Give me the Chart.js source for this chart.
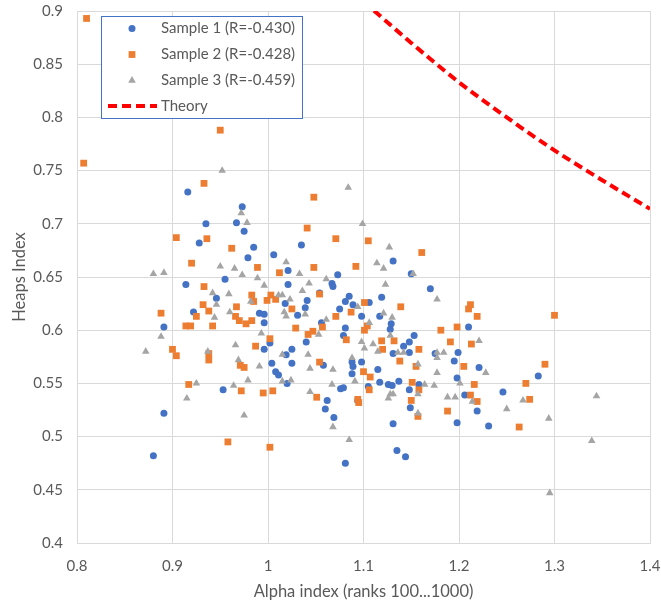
<!DOCTYPE html>
<html>
<head>
<meta charset="utf-8">
<script src="https://cdn.jsdelivr.net/npm/chart.js@4.4.0/dist/chart.umd.min.js"></script>
<style>
  html, body { margin: 0; padding: 0; background: #ffffff; }
  #c { display: block; }
</style>
</head>
<body>
<canvas id="c" width="661" height="608"></canvas>
<script>
// Sample 1 (blue circles)
const s1x = [0.916,0.973,0.967,0.935,0.975,0.928,0.985,0.979,1.006,1.035,
  1.021,1.021,0.955,0.914,0.946,1.041,1.018,1.039,0.922,0.991,
  0.996,1.031,1.054,1.131,1.073,1.150,1.067,1.068,1.170,1.085,
  1.081,1.089,1.119,1.106,1.075,1.098,1.117,0.891,0.996,1.002,
  0.996,1.004,1.025,1.019,1.025,1.008,1.011,1.020,1.040,0.953,
  1.056,1.081,1.079,1.128,1.129,1.153,1.148,1.142,1.148,1.131,
  1.175,1.199,1.195,1.210,1.088,1.089,1.098,1.088,1.058,1.115,
  1.117,1.126,1.130,1.137,1.158,1.198,1.148,1.076,1.079,1.062,
  1.094,1.206,1.246,1.283,1.231,1.219,1.198,1.131,1.135,1.144,
  1.081,1.221,1.060,1.069,1.149,0.891,0.880,1.105];
const s1y = [0.730,0.716,0.701,0.700,0.693,0.682,0.678,0.668,0.671,0.680,
  0.656,0.643,0.648,0.643,0.630,0.628,0.625,0.621,0.617,0.616,
  0.615,0.614,0.635,0.665,0.652,0.653,0.644,0.641,0.639,0.632,
  0.627,0.624,0.631,0.626,0.620,0.613,0.613,0.603,0.607,0.588,
  0.582,0.569,0.582,0.577,0.569,0.561,0.558,0.550,0.589,0.544,
  0.607,0.602,0.595,0.601,0.606,0.595,0.589,0.585,0.579,0.578,
  0.578,0.579,0.571,0.603,0.570,0.566,0.570,0.559,0.567,0.563,
  0.551,0.549,0.548,0.552,0.549,0.555,0.544,0.545,0.546,0.534,
  0.534,0.539,0.542,0.557,0.510,0.524,0.513,0.512,0.487,0.481,
  0.475,0.565,0.526,0.518,0.527,0.522,0.482,0.547];

// Sample 2 (orange squares)
const s2x = [0.810,0.807,0.950,0.933,1.048,1.041,0.904,0.936,0.962,0.920,
  0.989,1.012,1.048,0.933,0.983,0.985,0.999,1.003,1.008,0.967,
  0.932,0.938,1.025,0.888,0.925,0.966,0.970,0.977,0.983,1.071,
  1.105,1.161,1.092,1.054,1.101,1.139,1.087,1.071,1.212,1.210,
  1.219,0.914,0.919,0.942,1.002,0.987,1.029,1.042,1.047,0.900,
  0.904,0.938,0.938,0.971,0.975,0.917,0.972,0.995,1.005,1.051,
  1.057,1.101,1.104,1.082,1.119,1.120,1.132,1.158,1.138,1.155,
  1.100,1.107,1.181,1.198,1.191,1.213,1.205,1.151,1.158,1.106,
  1.150,1.094,1.095,1.216,1.212,1.219,1.054,1.188,1.157,1.263,
  1.270,1.274,1.290,1.300,0.958,1.002];
const s2y = [0.893,0.757,0.788,0.738,0.725,0.696,0.687,0.686,0.677,0.663,
  0.659,0.654,0.659,0.641,0.633,0.627,0.628,0.633,0.629,0.622,
  0.624,0.618,0.620,0.616,0.613,0.613,0.609,0.606,0.609,0.686,
  0.684,0.673,0.660,0.634,0.626,0.622,0.617,0.613,0.624,0.620,
  0.613,0.604,0.604,0.604,0.592,0.585,0.602,0.596,0.599,0.582,
  0.576,0.578,0.572,0.567,0.565,0.549,0.543,0.541,0.543,0.537,
  0.603,0.600,0.604,0.591,0.590,0.582,0.590,0.582,0.571,0.566,
  0.561,0.556,0.600,0.603,0.589,0.587,0.566,0.551,0.544,0.544,
  0.534,0.535,0.532,0.549,0.539,0.533,0.570,0.524,0.519,0.509,
  0.550,0.535,0.568,0.614,0.495,0.490];

// Sample 3 (grey triangles)
const s3x = [0.952,0.972,0.978,1.084,1.099,0.880,0.891,0.950,0.965,0.973,
  0.989,0.996,1.019,1.033,1.043,1.036,0.942,0.959,0.946,0.982,
  1.011,1.015,1.023,1.017,1.019,0.960,0.944,1.039,1.127,1.114,
  1.121,1.152,1.061,1.123,1.177,1.094,1.121,1.130,1.061,0.888,
  0.872,0.966,0.937,0.969,0.991,0.993,1.015,1.042,1.044,0.979,
  0.925,0.964,1.015,1.024,0.915,1.044,1.106,1.128,1.098,1.110,
  1.115,1.136,1.142,1.177,1.184,1.177,1.221,1.088,1.157,1.068,
  1.177,1.228,1.067,1.091,1.164,1.174,1.201,1.128,1.131,1.157,
  1.188,1.196,1.126,1.250,1.267,1.294,1.344,1.339,1.295,1.085,
  1.214,1.157,1.068,0.975,1.053,1.101];
const s3y = [0.750,0.710,0.701,0.734,0.700,0.653,0.654,0.660,0.658,0.652,
  0.649,0.642,0.664,0.653,0.644,0.637,0.635,0.634,0.624,0.627,
  0.633,0.633,0.629,0.617,0.613,0.617,0.612,0.615,0.678,0.663,
  0.658,0.653,0.648,0.643,0.629,0.622,0.616,0.612,0.610,0.594,
  0.580,0.586,0.580,0.572,0.566,0.597,0.577,0.577,0.564,0.553,
  0.550,0.548,0.552,0.553,0.536,0.542,0.607,0.595,0.589,0.587,
  0.580,0.579,0.579,0.579,0.579,0.574,0.590,0.574,0.568,0.563,
  0.560,0.560,0.549,0.552,0.549,0.548,0.550,0.540,0.540,0.540,
  0.537,0.537,0.536,0.526,0.534,0.517,0.538,0.496,0.447,0.497,
  0.533,0.522,0.509,0.520,0.596,0.583];

// Theory curve
const thX = [1.10, 1.15, 1.20, 1.25, 1.30, 1.35, 1.40];
const thY = [0.909, 0.870, 0.833, 0.800, 0.769, 0.741, 0.714];

const seriesLabels = ['Sample 1 (R=-0.430)', 'Sample 2 (R=-0.428)', 'Sample 3 (R=-0.459)', 'Theory'];
const xTicks = [0.8, 0.9, 1.0, 1.1, 1.2, 1.3, 1.4];
const yTicks = [0.4, 0.45, 0.5, 0.55, 0.6, 0.65, 0.7, 0.75, 0.8, 0.85, 0.9];

const zip = (xs, ys) => xs.map((x, i) => ({ x: x, y: ys[i] }));

const FONT = 'Lato, "Liberation Sans", sans-serif';
const TEXT = '#595959';
const GRID = '#d9d9d9';

// Framed legend drawn inside the plot area, top-left
const boxLegend = {
  id: 'boxLegend',
  afterDraw(chart) {
    const ctx = chart.ctx;
    const a = chart.chartArea;
    const x0 = a.left + 24, y0 = a.top + 5, w = 201, h = 102;
    ctx.save();
    ctx.fillStyle = '#ffffff';
    ctx.fillRect(x0, y0, w, h);
    ctx.strokeStyle = '#4472c4';
    ctx.lineWidth = 1;
    ctx.strokeRect(x0 + 0.5, y0 + 0.5, w, h);
    ctx.font = '15px ' + FONT;
    ctx.textBaseline = 'middle';
    ctx.textAlign = 'left';
    const rowY = [y0 + 12.5, y0 + 38.5, y0 + 64.5, y0 + 90];
    chart.data.datasets.forEach((ds, i) => {
      const cy = rowY[i];
      if (ds.showLine) {
        ctx.save();
        ctx.strokeStyle = ds.borderColor;
        ctx.lineWidth = 4;
        ctx.setLineDash([9, 5]);
        ctx.beginPath();
        ctx.moveTo(x0 + 7, cy);
        ctx.lineTo(x0 + 56, cy);
        ctx.stroke();
        ctx.restore();
      } else {
        ctx.fillStyle = ds.backgroundColor;
        ctx.strokeStyle = ds.backgroundColor;
        Chart.helpers.drawPoint(ctx, {
          pointStyle: ds.pointStyle, radius: ds.pointRadius, rotation: 0, borderWidth: 0
        }, x0 + 31, cy);
      }
      ctx.fillStyle = TEXT;
      ctx.fillText(ds.label, x0 + 60, cy);
    });
    ctx.restore();
  }
};

new Chart(document.getElementById('c'), {
  type: 'scatter',
  data: {
    datasets: [
      { label: seriesLabels[0], data: zip(s1x, s1y), pointStyle: 'circle', pointRadius: 3.5,
        backgroundColor: '#4472c4', borderColor: '#4472c4', borderWidth: 0, order: 3 },
      { label: seriesLabels[1], data: zip(s2x, s2y), pointStyle: 'rect', pointRadius: 4.8,
        backgroundColor: '#ed7d31', borderColor: '#ed7d31', borderWidth: 0, order: 2 },
      { label: seriesLabels[2], data: zip(s3x, s3y), pointStyle: 'triangle', pointRadius: 4.4,
        backgroundColor: '#a5a5a5', borderColor: '#a5a5a5', borderWidth: 0, order: 1 },
      { label: seriesLabels[3], data: zip(thX, thY), showLine: true, pointRadius: 0,
        borderColor: '#ff0000', backgroundColor: '#ff0000', borderWidth: 4, borderDash: [9, 5],
        borderCapStyle: 'butt', cubicInterpolationMode: 'monotone', order: 0 }
    ]
  },
  options: {
    responsive: false,
    animation: false,
    events: [],
    layout: { padding: { top: 11, right: 11, left: 0, bottom: 0 } },
    plugins: { legend: { display: false }, tooltip: { enabled: false } },
    scales: {
      x: {
        type: 'linear', min: 0.8, max: 1.4,
        afterBuildTicks: s => { s.ticks = xTicks.map(v => ({ value: v })); },
        afterFit: s => { s.height = 65; s.paddingLeft = 0; s.paddingRight = 0; },
        grid: { color: GRID, drawTicks: false },
        border: { color: GRID },
        ticks: { color: TEXT, font: { family: FONT, size: 15 }, padding: 14,
          callback: v => String(Number(v.toFixed(2))) },
        title: { display: true, text: 'Alpha index (ranks 100...1000)', color: TEXT,
          font: { family: FONT, size: 16.5 }, padding: { top: 0, bottom: 6 } }
      },
      y: {
        type: 'linear', min: 0.4, max: 0.9,
        afterBuildTicks: s => { s.ticks = yTicks.map(v => ({ value: v })); },
        afterFit: s => { s.width = 77; s.paddingTop = 0; s.paddingBottom = 0; },
        grid: { color: GRID, drawTicks: false },
        border: { color: GRID },
        ticks: { color: TEXT, font: { family: FONT, size: 15 }, padding: 14,
          callback: v => String(Number(v.toFixed(2))) },
        title: { display: true, text: 'Heaps Index', color: TEXT,
          font: { family: FONT, size: 16.5 }, padding: { top: 10, bottom: 0 } }
      }
    }
  },
  plugins: [boxLegend]
});
</script>
</body>
</html>
